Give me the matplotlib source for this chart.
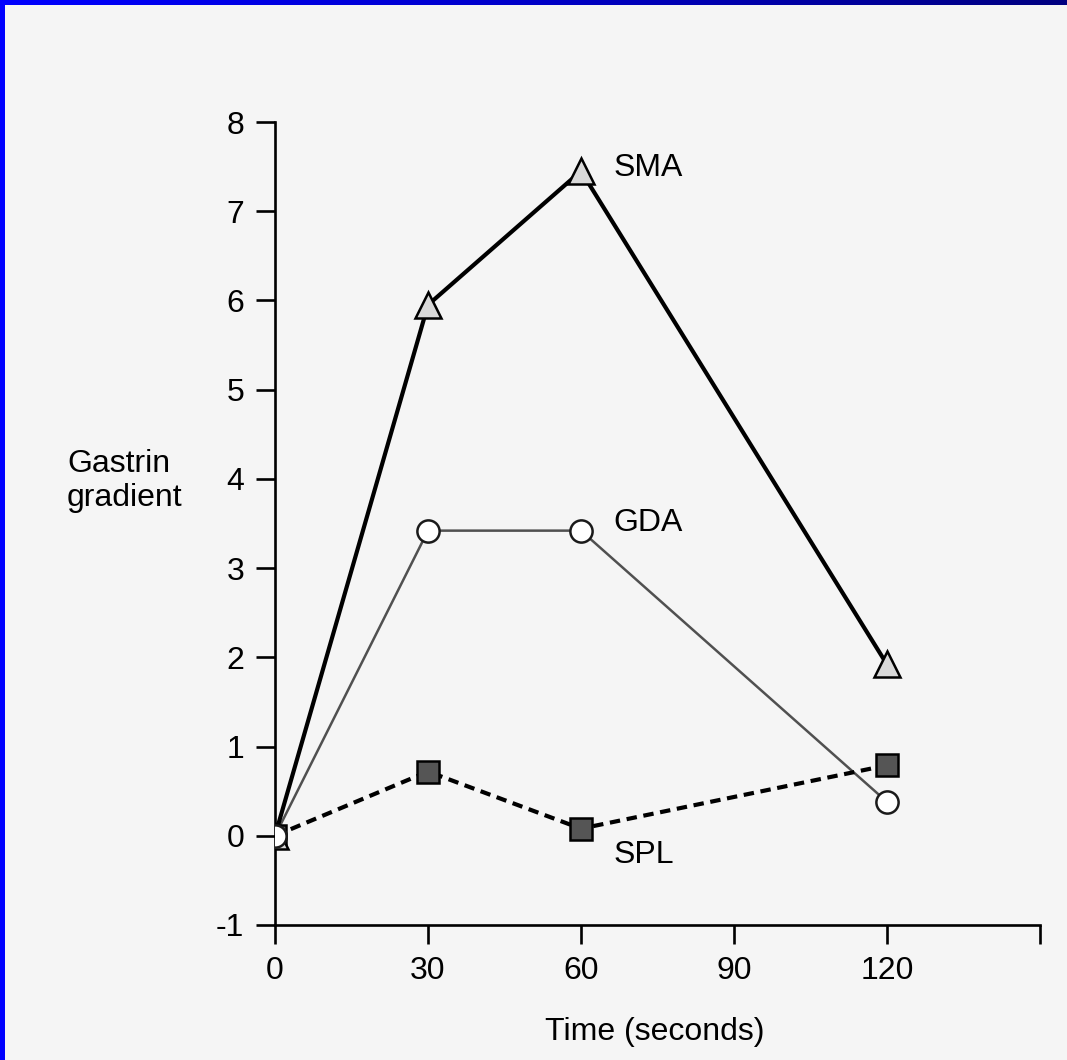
import matplotlib
matplotlib.use("Agg")
import matplotlib.pyplot as plt
import numpy as np
from matplotlib.patches import Rectangle

plt.rcParams['font.family'] = ['Liberation Sans', 'DejaVu Sans']

time_s = [0, 30, 60, 120]
sma = [0, 5.95, 7.45, 1.92]
gda = [0, 3.42, 3.42, 0.38]
spl = [0, 0.72, 0.08, 0.79]
x_ticks = [0, 30, 60, 90, 120, 150]
x_labels = ["0", "30", "60", "90", "120", ""]
y_ticks = [-1, 0, 1, 2, 3, 4, 5, 6, 7, 8]
y_labels = ["-1", "0", "1", "2", "3", "4", "5", "6", "7", "8"]

bg = "#f5f5f5"
fs = 23
fig = plt.figure(figsize=(10.67, 10.60), dpi=100, facecolor=bg)

# blue slide frame: left strip and top gradient bar
fig.patches.append(Rectangle((0, 0), 5 / 1067, 1, transform=fig.transFigure,
                             facecolor="#0000ff", edgecolor="none", zorder=5))
grad = np.linspace(0, 1, 256).reshape(1, -1)
bar_ax = fig.add_axes([0, 1 - 5 / 1060, 1, 5 / 1060])
bar_ax.imshow(grad, aspect="auto", cmap=matplotlib.colors.LinearSegmentedColormap.from_list(
    "frame", ["#0000ff", "#0000c8", "#000080"]))
bar_ax.axis("off")

ax = fig.add_axes([275 / 1067, 1 - 925 / 1060, (1040 - 275) / 1067, (925 - 122) / 1060])
ax.set_facecolor(bg)

ax.plot(time_s, gda, color="#505050", lw=1.8, marker="o", ms=16,
        mfc="white", mec="#1a1a1a", mew=1.8, zorder=3)
ax.plot(time_s, spl, color="black", lw=3, ls=(0, (2.5, 1.6)), marker="s", ms=16,
        mfc="#555555", mec="black", mew=1.8, zorder=4)
ax.plot(time_s, sma, color="black", lw=3, marker="^", ms=19,
        mfc="#d9d9d9", mec="black", mew=1.8, zorder=5)
# circle at origin sits on top
ax.plot(time_s[:1], gda[:1], ls="none", marker="o", ms=16, mfc="white",
        mec="#1a1a1a", mew=1.8, zorder=6)

ax.text(66.3, 7.48, "SMA", fontsize=fs, va="center", ha="left")
ax.text(66.3, 3.51, "GDA", fontsize=fs, va="center", ha="left")
ax.text(66.3, -0.22, "SPL", fontsize=fs, va="center", ha="left")

ax.set_xlim(0, 150)
ax.set_ylim(-1, 8)
ax.set_xticks(x_ticks)
ax.set_xticklabels(x_labels)
ax.set_yticks(y_ticks)
ax.set_yticklabels(y_labels)
ax.tick_params(length=14, width=1.9, labelsize=fs, pad=8)
for s in ["top", "right"]:
    ax.spines[s].set_visible(False)
for s in ["left", "bottom"]:
    ax.spines[s].set_linewidth(1.9)

fig.text(67 / 1067, 1 - 481 / 1060, "Gastrin\ngradient", fontsize=fs,
         ha="left", va="center", linespacing=1.15)
fig.text(655 / 1067, 1 - 1032 / 1060, "Time (seconds)", fontsize=fs,
         ha="center", va="center")

fig.savefig("out.png", dpi=100, facecolor=bg)
